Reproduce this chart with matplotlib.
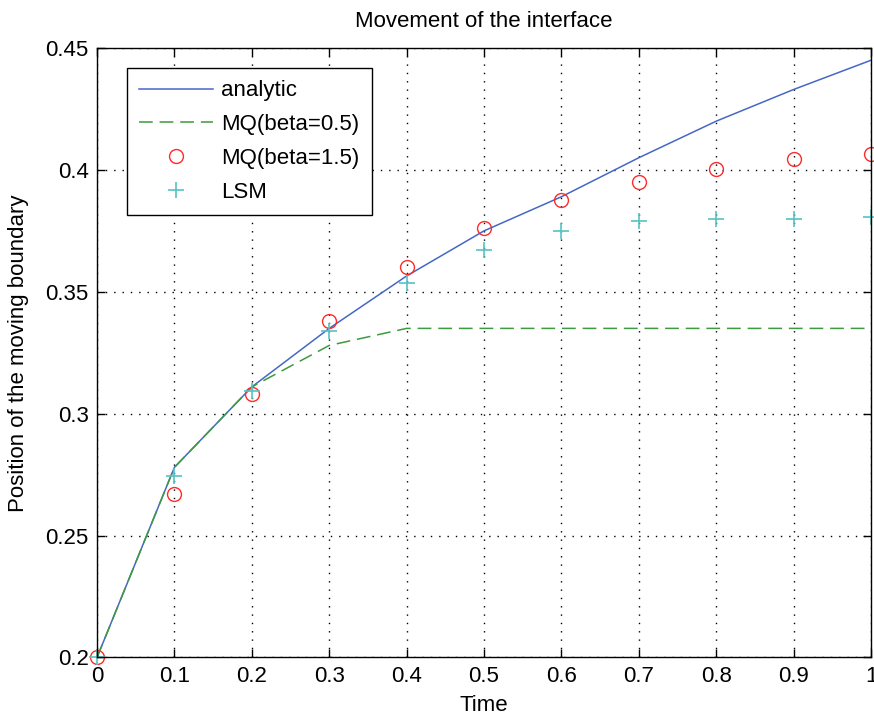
"""Movement of the interface: analytic vs MQ and LSM solutions."""

import matplotlib

matplotlib.use("Agg", force=True)
import matplotlib.pyplot as plt

plt.rcParams["font.family"] = ["Liberation Sans", "DejaVu Sans"]

time = [0.0, 0.1, 0.2, 0.3, 0.4, 0.5, 0.6, 0.7, 0.8, 0.9, 1.0]
analytic = [0.200, 0.278, 0.311, 0.335, 0.3565, 0.375, 0.389, 0.405, 0.420, 0.433, 0.445]
mq_beta05 = [0.200, 0.278, 0.311, 0.328, 0.335, 0.335, 0.335, 0.335, 0.335, 0.335, 0.335]
mq_beta15 = [0.200, 0.267, 0.308, 0.338, 0.360, 0.376, 0.3875, 0.395, 0.4005, 0.4045, 0.4065]
lsm = [0.200, 0.2745, 0.3095, 0.334, 0.3535, 0.367, 0.375, 0.379, 0.380, 0.380, 0.3805]

xticks = [0, 0.1, 0.2, 0.3, 0.4, 0.5, 0.6, 0.7, 0.8, 0.9, 1]
xtick_labels = ["0", "0.1", "0.2", "0.3", "0.4", "0.5", "0.6", "0.7", "0.8", "0.9", "1"]
yticks = [0.2, 0.25, 0.3, 0.35, 0.4, 0.45]
ytick_labels = ["0.2", "0.25", "0.3", "0.35", "0.4", "0.45"]

fig = plt.figure(figsize=(8.74, 7.17), dpi=100)
ax = fig.add_axes([0.111, 0.083, 0.8856, 0.850])

ax.plot(time, analytic, color="#4468c4", lw=1.1, label="analytic")
ax.plot(time, mq_beta05, color="#3e9a3e", lw=1.1, dashes=(9, 4.5), label="MQ(beta=0.5)")
ax.plot(time, mq_beta15, ls="none", marker="o", ms=10, mfc="none", mec="#ff2a2a", mew=1.0,
        clip_on=False, label="MQ(beta=1.5)")
ax.plot(time, lsm, ls="none", marker="+", ms=11, mec="#55c4c4", mew=1.2,
        clip_on=False, label="LSM")

ax.set_xlim(0, 1)
ax.set_ylim(0.2, 0.45)
ax.set_xticks(xticks)
ax.set_xticklabels(xtick_labels)
ax.set_yticks(yticks)
ax.set_yticklabels(ytick_labels)
ax.tick_params(direction="in", length=6, width=1, top=True, right=True, labelsize=16, pad=6)
ax.grid(True, color="black", ls=(0, (1, 5)), lw=1.0)
for spine in ax.spines.values():
    spine.set_linewidth(1.0)

ax.set_title("Movement of the interface", fontsize=16, pad=15)
ax.set_xlabel("Time", fontsize=16, labelpad=6)
ax.set_ylabel("Position of the moving boundary", fontsize=16, labelpad=12)

leg = ax.legend(loc="upper left", bbox_to_anchor=(0.0388, 0.967), borderaxespad=0,
                fontsize=16, numpoints=1, handlelength=3.3, handletextpad=0.4,
                labelspacing=0.58, borderpad=0.55, fancybox=False, framealpha=1,
                edgecolor="black")
leg.get_frame().set_linewidth(1.0)

fig.savefig("out.png", dpi=100)
plt.close(fig)
